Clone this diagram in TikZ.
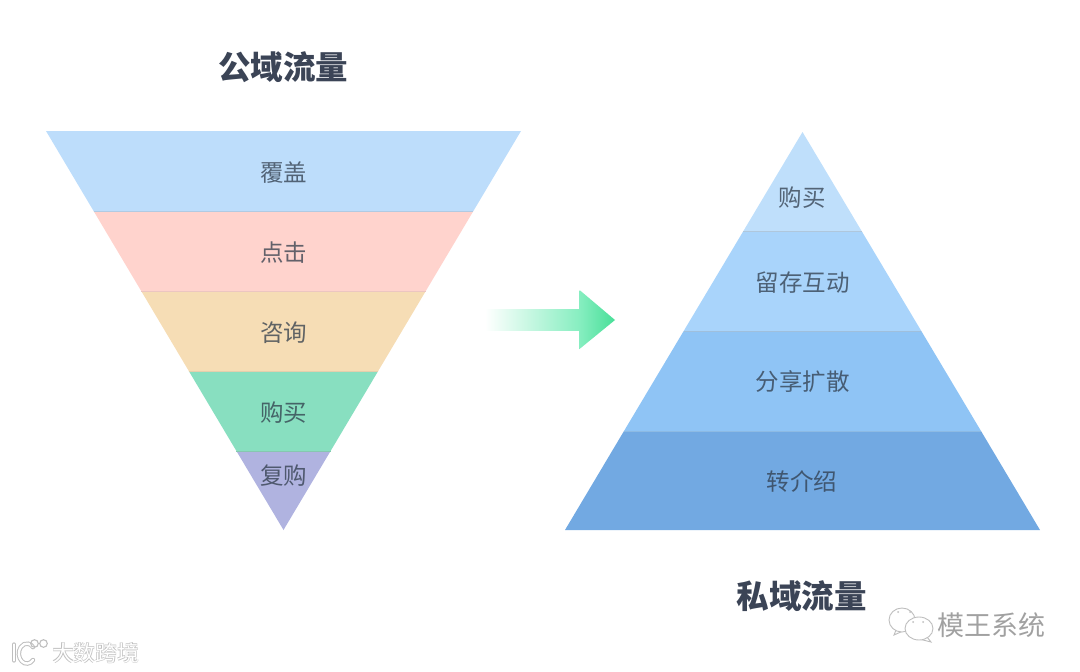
\documentclass[tikz,border=0pt]{standalone}
\usepackage{fontspec}
\newfontfamily\cjk{Noto Sans CJK SC}
\definecolor{lblc}{HTML}{2F3B4A}
\definecolor{ttlc}{HTML}{3B4456}
\definecolor{fa}{HTML}{BDDDFB}
\definecolor{fb}{HTML}{FFD3CD}
\definecolor{fc}{HTML}{F6DDB5}
\definecolor{fd}{HTML}{88DFC0}
\definecolor{fe}{HTML}{B0B3E0}
\definecolor{pa}{HTML}{BFDFFB}
\definecolor{pb}{HTML}{A9D4FB}
\definecolor{pc}{HTML}{8FC4F5}
\definecolor{pd}{HTML}{72A9E2}
\definecolor{wmg}{HTML}{BEBEBE}
\definecolor{arrowmid}{HTML}{86EEC0}
\definecolor{arrowtip}{HTML}{48DF98}
\tikzset{
  lbl/.style={font=\cjk\fontsize{23.5}{25}\selectfont, text=lblc, text opacity=0.75, inner sep=0pt},
  ttl/.style={font=\cjk\bfseries\fontsize{32.5}{34}\selectfont, text=ttlc, inner sep=0pt},
  wmshadow/.style={font=\cjk\bfseries\fontsize{22}{24}\selectfont, text=wmg, inner sep=0pt},
  wmtop/.style={font=\cjk\fontsize{22}{24}\selectfont, text=white, inner sep=0pt},
  wxbub/.style={draw=wmg, fill=white, line width=0.9pt},
  seam/.style={line width=0.7pt},
}
\begin{document}
\begin{tikzpicture}[x=1pt,y=-1pt]
\useasboundingbox (0,0) rectangle (1080,672);
% funnel
\fill[fa] (46,131) -- (521,131) -- (473.4,211) -- (93.6,211) -- cycle;
\fill[fb] (93.6,211) -- (473.4,211) -- (425.8,291) -- (141.2,291) -- cycle;
\fill[fc] (141.2,291) -- (425.8,291) -- (378.2,371) -- (188.8,371) -- cycle;
\fill[fd] (188.8,371) -- (378.2,371) -- (330.6,451) -- (236.4,451) -- cycle;
\fill[fe] (236.4,451) -- (330.6,451) -- (283.5,530) -- cycle;
\draw[seam,fa!80!gray] (93.6,211) -- (473.4,211);
\draw[seam,fb!85!gray] (141.2,291) -- (425.8,291);
\draw[seam,fc!85!gray] (188.8,371) -- (378.2,371);
\draw[seam,fd!75!gray] (236.4,451) -- (330.6,451);
% pyramid
\fill[pa] (802.5,132) -- (861.6,231) -- (743.4,231) -- cycle;
\fill[pb] (743.4,231) -- (861.6,231) -- (921.3,331) -- (683.7,331) -- cycle;
\fill[pc] (683.7,331) -- (921.3,331) -- (981,431) -- (624,431) -- cycle;
\fill[pd] (624,431) -- (981,431) -- (1040,530) -- (565,530) -- cycle;
\draw[seam,pa!75!gray] (743.4,231) -- (861.6,231);
\draw[seam,pb!75!gray] (683.7,331) -- (921.3,331);
\draw[seam,pc!85!gray] (624,431) -- (981,431);
% arrow
\shade[left color=white, right color=arrowmid] (485,309) rectangle (580,330);
\shade[left color=arrowmid, right color=arrowtip] (579.5,290) -- (615,320) -- (579.5,349) -- cycle;
% labels
\node[ttl] (t1) at (283,67) {公域流量};
\node[ttl] (t2) at (801.5,596) {私域流量};
\node[lbl] (a1) at (283.5,172.7) {覆盖};
\node[lbl] (a2) at (283.5,252.7) {点击};
\node[lbl] (a3) at (283.5,332.7) {咨询};
\node[lbl] (a4) at (283.5,412.7) {购买};
\node[lbl] (a5) at (283.5,475.7) {复购};
\node[lbl] (b1) at (802,197.7) {购买};
\node[lbl] (b2) at (802.5,282.7) {留存互动};
\node[lbl] (b3) at (802.5,381.7) {分享扩散};
\node[lbl] (b4) at (802,481.7) {转介绍};
% watermark right
\node[font=\cjk\fontsize{27}{29}\selectfont, text=wmg!85!black, inner sep=0pt] (wm2) at (991.5,625) {模王系统};
\draw[wxbub] (896,630) -- (894,635) -- (903,631);
\draw[wxbub] (902,620) circle[x radius=13, y radius=12];
\draw[wxbub] (927,637) -- (931,642) -- (921,639.5);
\draw[wxbub] (919,628.5) circle[x radius=14, y radius=11.5];
\fill[wmg] (898,612) circle (1) (910,612) circle (1) (913,622) circle (1) (923,622) circle (1);
% watermark left
\node[wmshadow] (wm1s) at (96,653) {大数跨境};
\node[wmtop] (wm1) at (96,653) {大数跨境};
\draw[wmg, line width=4.4pt, line cap=round] (14,644.5) -- (14,660.5);
\draw[wmg, line width=4.4pt, line cap=round] (33,660) arc (-320:-40:8 and 10);
\draw[white, line width=2.4pt, line cap=round] (14,644.5) -- (14,660.5);
\draw[white, line width=2.4pt, line cap=round] (33,660) arc (-320:-40:8 and 10);
\draw[wmg, line width=1.1pt] (34.5,643.5) circle (3.8) (43.5,643.5) circle (3.8);
\end{tikzpicture}
\end{document}
